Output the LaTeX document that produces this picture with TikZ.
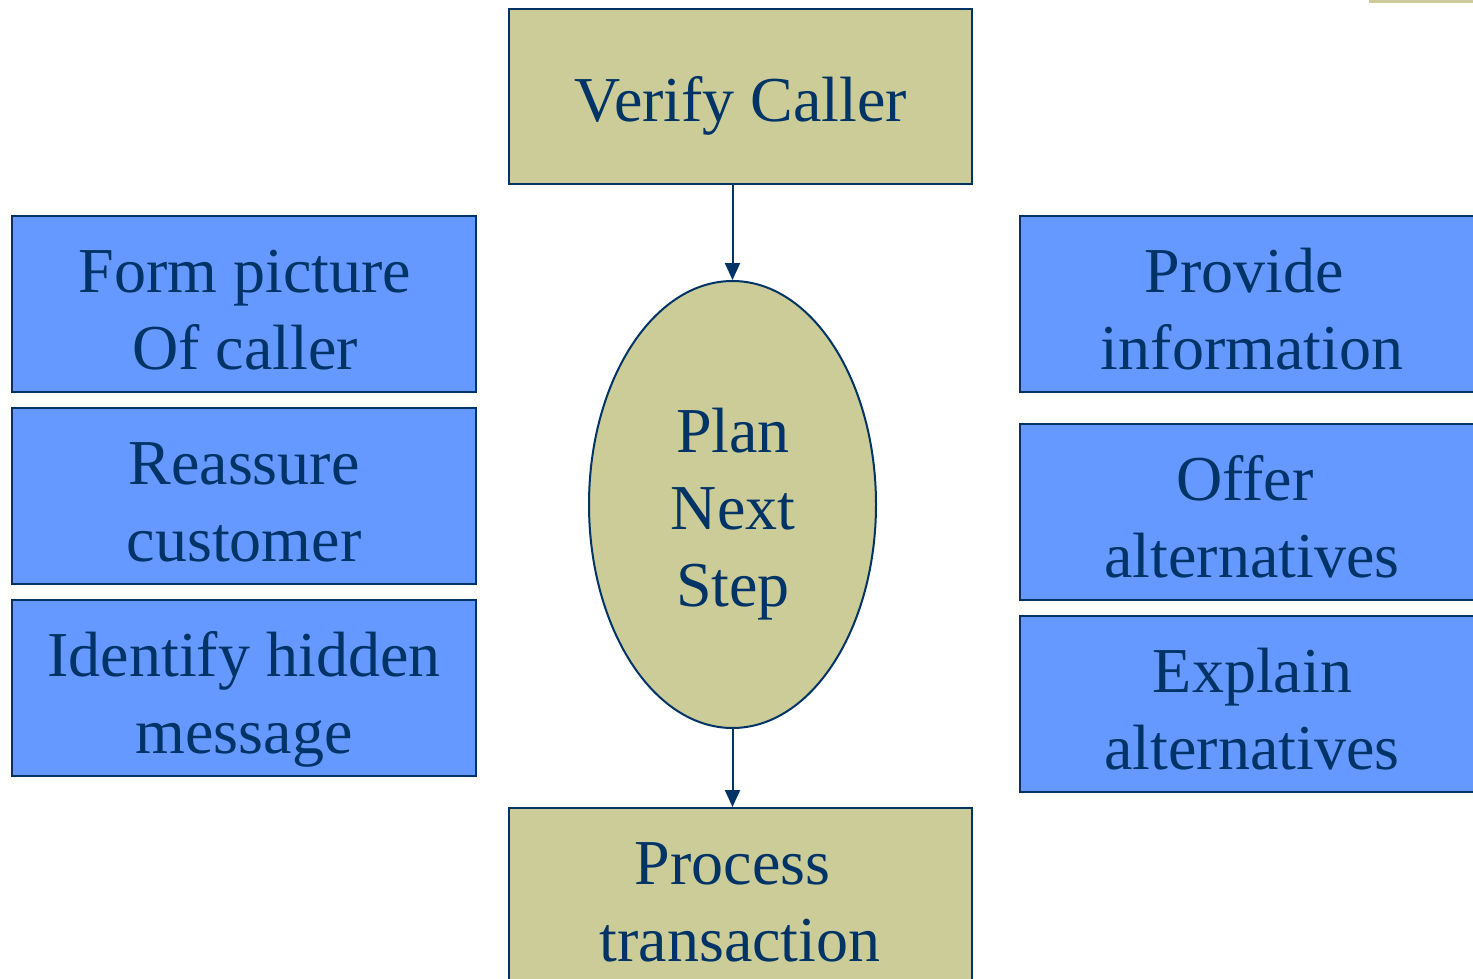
\documentclass[tikz,border=0pt]{standalone}
\usepackage{fontspec}
\setmainfont{Liberation Serif}
\usetikzlibrary{arrows.meta,shapes.geometric}
\definecolor{navy}{RGB}{0,51,102}
\definecolor{tanfill}{RGB}{204,204,153}
\definecolor{skyfill}{RGB}{102,153,255}
\begin{document}
\begin{tikzpicture}[x=0.5pt,y=-0.5pt,
  boxbase/.style={draw=navy, line width=1pt, inner sep=0pt, minimum width=232pt, minimum height=88pt},
  bluebox/.style={boxbase, fill=skyfill},
  tanbox/.style={boxbase, fill=tanfill, minimum width=231.5pt, minimum height=87.5pt},
  lbl/.style={text=navy, font=\fontsize{32}{38.5}\selectfont, anchor=base, inner sep=0pt},
  arr/.style={draw=navy, line width=1pt, -{Triangle[length=8.5pt,width=7.5pt]}}]
\useasboundingbox (0,0) rectangle (1473,979);
\clip (0,0) rectangle (1473,979);
\fill[tanfill] (1369,-50) rectangle (1540,3);
% boxes
\node[tanbox] (verify) at (740.5,96.5) {};
\node[tanbox] (process) at (740.5,895.5) {};
\node[ellipse, draw=navy, line width=1pt, fill=tanfill, inner sep=0pt, minimum width=143.5pt, minimum height=223.5pt] (plan) at (732.5,504.5) {};
\node[bluebox] (l1) at (244,304) {};
\node[bluebox] (l2) at (244,496) {};
\node[bluebox] (l3) at (244,688) {};
\node[bluebox] (r1) at (1252,304) {};
\node[bluebox] (r2) at (1252,512) {};
\node[bluebox] (r3) at (1252,704) {};
% texts
\node[lbl] (tv) at (741,122) {Verify Caller};
\node[lbl] (tp1) at (733,452) {Plan};
\node[lbl] (tp2) at (733,529) {Next};
\node[lbl] (tp3) at (733,606) {Step};
\node[lbl] (tq1) at (732.5,884) {Process};
\node[lbl] (tq2) at (740,961) {transaction};
\node[lbl] (tl11) at (245,292) {Form picture};
\node[lbl] (tl12) at (245,369) {Of caller};
\node[lbl] (tl21) at (244,484) {Reassure};
\node[lbl] (tl22) at (244,561) {customer};
\node[lbl] (tl31) at (244,676) {Identify hidden};
\node[lbl] (tl32) at (244,753) {message};
\node[lbl] (tr11) at (1244.5,292) {Provide};
\node[lbl] (tr12) at (1252,369) {information};
\node[lbl] (tr21) at (1245,500) {Offer};
\node[lbl] (tr22) at (1252,577) {alternatives};
\node[lbl] (tr31) at (1252.5,692) {Explain};
\node[lbl] (tr32) at (1252,769) {alternatives};
% connectors
\draw[arr] (verify.south -| plan.north) -- (plan.north);
\draw[arr] (plan.south) -- (plan.south |- process.north);
\end{tikzpicture}
\end{document}
